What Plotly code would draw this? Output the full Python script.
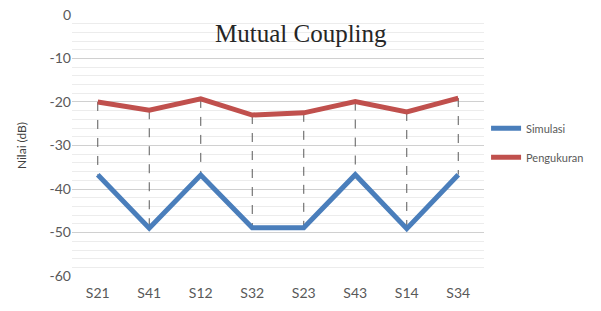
import plotly.graph_objects as go

categories = ["S21", "S41", "S12", "S32", "S23", "S43", "S14", "S34"]
simulasi = [-36.7, -49.0, -36.8, -48.9, -48.9, -36.7, -49.1, -36.7]
pengukuran = [-20.0, -21.9, -19.3, -23.0, -22.5, -19.9, -22.3, -19.1]
y_ticks = [0, -10, -20, -30, -40, -50, -60]

fig = go.Figure()

# high-low drop lines
for c, hi, lo in zip(categories, pengukuran, simulasi):
    fig.add_trace(go.Scatter(
        x=[c, c], y=[hi, lo], mode="lines",
        line=dict(color="#595959", width=1, dash="dash"),
        showlegend=False, hoverinfo="skip"))

fig.add_trace(go.Scatter(x=categories, y=simulasi, mode="lines", name="Simulasi",
                         legendgroup="a", line=dict(color="#4a7ebb", width=5)))
fig.add_trace(go.Scatter(x=categories, y=pengukuran, mode="lines", name="Pengukuran",
                         legendgroup="b", line=dict(color="#c0504d", width=5)))

fig.update_layout(
    width=601, height=311,
    margin=dict(l=72, r=117, t=14, b=34, autoexpand=False),
    paper_bgcolor="white", plot_bgcolor="white",
    font=dict(family="Lato, Open Sans, sans-serif", color="#595959"),
    legend=dict(x=1.005, y=0.51, xanchor="left", yanchor="middle",
                font=dict(size=11, color="#595959"),
                tracegroupgap=10, bgcolor="rgba(0,0,0,0)"),
    annotations=[dict(text="Mutual Coupling", x=0.555, y=0.925, xref="paper", yref="paper",
                      xanchor="center", yanchor="middle", showarrow=False,
                      font=dict(family="Liberation Serif, DejaVu Serif, serif", size=25, color="#262626"))],
)

fig.update_xaxes(type="category", categoryorder="array", categoryarray=categories,
                 range=[-0.5, len(categories) - 0.5], automargin=False,
                 showgrid=False, showline=False, zeroline=False, ticks="",
                 tickfont=dict(size=14, color="#595959"), ticklabelstandoff=6)
fig.update_yaxes(range=[-60.2, 0.2], tickvals=y_ticks, ticktext=[str(v) for v in y_ticks],
                 automargin=False,
                 showgrid=True, gridcolor="#d0d0d0", gridwidth=1.3, zeroline=False,
                 showline=False, ticks="",
                 minor=dict(dtick=2, showgrid=True, gridcolor="#ececec", gridwidth=1),
                 tickfont=dict(size=14, color="#595959"),
                 title=dict(text="Nilai (dB)", font=dict(size=12, color="#404040"), standoff=20))

fig.write_html("out.html", config={"displayModeBar": False},
               post_script="document.body.style.margin='0';")
